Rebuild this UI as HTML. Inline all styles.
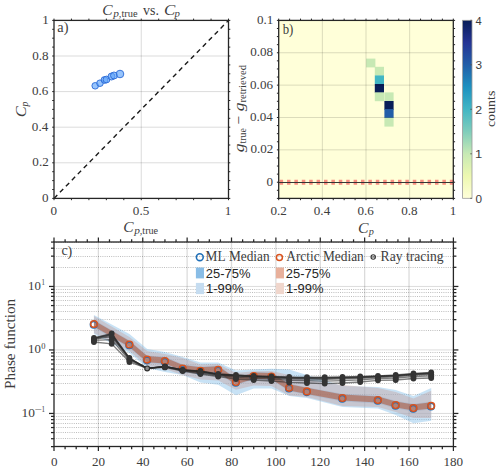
<!DOCTYPE html>
<html><head><meta charset="utf-8"><style>
html,body{margin:0;padding:0;background:#fff;width:500px;height:471px;overflow:hidden}
svg{display:block}
text{font-kerning:none}
</style></head><body>
<svg width="500" height="471" viewBox="0 0 500 471">
<rect width="500" height="471" fill="#fff"/>
<line x1="141.25" y1="20.4" x2="141.25" y2="198.4" stroke="rgba(0,0,0,0.14)" stroke-width="1"/>
<line x1="54" y1="162.8" x2="228.5" y2="162.8" stroke="rgba(0,0,0,0.14)" stroke-width="1"/>
<line x1="54" y1="127.2" x2="228.5" y2="127.2" stroke="rgba(0,0,0,0.14)" stroke-width="1"/>
<line x1="54" y1="91.6" x2="228.5" y2="91.6" stroke="rgba(0,0,0,0.14)" stroke-width="1"/>
<line x1="54" y1="56" x2="228.5" y2="56" stroke="rgba(0,0,0,0.14)" stroke-width="1"/>
<line x1="54" y1="198.4" x2="228.5" y2="20.4" stroke="#1a1a1a" stroke-width="1.4" stroke-dasharray="4.7 3.8"/>
<circle cx="95.2" cy="85.8" r="3.3" fill="rgba(95,165,250,0.65)" stroke="#2a6ad6" stroke-width="0.9"/>
<circle cx="100" cy="83.2" r="3.3" fill="rgba(95,165,250,0.65)" stroke="#2a6ad6" stroke-width="0.9"/>
<circle cx="104.5" cy="80" r="3.4" fill="rgba(95,165,250,0.65)" stroke="#2a6ad6" stroke-width="0.9"/>
<circle cx="106.5" cy="79.5" r="3.4" fill="rgba(95,165,250,0.65)" stroke="#2a6ad6" stroke-width="0.9"/>
<circle cx="111.5" cy="76.5" r="3.5" fill="rgba(95,165,250,0.65)" stroke="#2a6ad6" stroke-width="0.9"/>
<circle cx="114" cy="75.5" r="3.5" fill="rgba(95,165,250,0.65)" stroke="#2a6ad6" stroke-width="0.9"/>
<circle cx="120" cy="74" r="3.8" fill="rgba(95,165,250,0.65)" stroke="#2a6ad6" stroke-width="0.9"/>
<rect x="54" y="20.4" width="174.5" height="178" fill="none" stroke="#262626" stroke-width="1.3"/>
<line x1="54" y1="198.4" x2="54" y2="200.2" stroke="#262626" stroke-width="1"/>
<line x1="54" y1="20.4" x2="54" y2="18.6" stroke="#262626" stroke-width="1"/>
<line x1="71.45" y1="198.4" x2="71.45" y2="200.2" stroke="#262626" stroke-width="1"/>
<line x1="71.45" y1="20.4" x2="71.45" y2="18.6" stroke="#262626" stroke-width="1"/>
<line x1="88.9" y1="198.4" x2="88.9" y2="200.2" stroke="#262626" stroke-width="1"/>
<line x1="88.9" y1="20.4" x2="88.9" y2="18.6" stroke="#262626" stroke-width="1"/>
<line x1="106.35" y1="198.4" x2="106.35" y2="200.2" stroke="#262626" stroke-width="1"/>
<line x1="106.35" y1="20.4" x2="106.35" y2="18.6" stroke="#262626" stroke-width="1"/>
<line x1="123.8" y1="198.4" x2="123.8" y2="200.2" stroke="#262626" stroke-width="1"/>
<line x1="123.8" y1="20.4" x2="123.8" y2="18.6" stroke="#262626" stroke-width="1"/>
<line x1="141.25" y1="198.4" x2="141.25" y2="200.2" stroke="#262626" stroke-width="1"/>
<line x1="141.25" y1="20.4" x2="141.25" y2="18.6" stroke="#262626" stroke-width="1"/>
<line x1="158.7" y1="198.4" x2="158.7" y2="200.2" stroke="#262626" stroke-width="1"/>
<line x1="158.7" y1="20.4" x2="158.7" y2="18.6" stroke="#262626" stroke-width="1"/>
<line x1="176.15" y1="198.4" x2="176.15" y2="200.2" stroke="#262626" stroke-width="1"/>
<line x1="176.15" y1="20.4" x2="176.15" y2="18.6" stroke="#262626" stroke-width="1"/>
<line x1="193.6" y1="198.4" x2="193.6" y2="200.2" stroke="#262626" stroke-width="1"/>
<line x1="193.6" y1="20.4" x2="193.6" y2="18.6" stroke="#262626" stroke-width="1"/>
<line x1="211.05" y1="198.4" x2="211.05" y2="200.2" stroke="#262626" stroke-width="1"/>
<line x1="211.05" y1="20.4" x2="211.05" y2="18.6" stroke="#262626" stroke-width="1"/>
<line x1="228.5" y1="198.4" x2="228.5" y2="200.2" stroke="#262626" stroke-width="1"/>
<line x1="228.5" y1="20.4" x2="228.5" y2="18.6" stroke="#262626" stroke-width="1"/>
<line x1="54" y1="198.4" x2="52.2" y2="198.4" stroke="#262626" stroke-width="1"/>
<line x1="228.5" y1="198.4" x2="230.3" y2="198.4" stroke="#262626" stroke-width="1"/>
<line x1="54" y1="189.5" x2="52.2" y2="189.5" stroke="#262626" stroke-width="1"/>
<line x1="228.5" y1="189.5" x2="230.3" y2="189.5" stroke="#262626" stroke-width="1"/>
<line x1="54" y1="180.6" x2="52.2" y2="180.6" stroke="#262626" stroke-width="1"/>
<line x1="228.5" y1="180.6" x2="230.3" y2="180.6" stroke="#262626" stroke-width="1"/>
<line x1="54" y1="171.7" x2="52.2" y2="171.7" stroke="#262626" stroke-width="1"/>
<line x1="228.5" y1="171.7" x2="230.3" y2="171.7" stroke="#262626" stroke-width="1"/>
<line x1="54" y1="162.8" x2="52.2" y2="162.8" stroke="#262626" stroke-width="1"/>
<line x1="228.5" y1="162.8" x2="230.3" y2="162.8" stroke="#262626" stroke-width="1"/>
<line x1="54" y1="153.9" x2="52.2" y2="153.9" stroke="#262626" stroke-width="1"/>
<line x1="228.5" y1="153.9" x2="230.3" y2="153.9" stroke="#262626" stroke-width="1"/>
<line x1="54" y1="145" x2="52.2" y2="145" stroke="#262626" stroke-width="1"/>
<line x1="228.5" y1="145" x2="230.3" y2="145" stroke="#262626" stroke-width="1"/>
<line x1="54" y1="136.1" x2="52.2" y2="136.1" stroke="#262626" stroke-width="1"/>
<line x1="228.5" y1="136.1" x2="230.3" y2="136.1" stroke="#262626" stroke-width="1"/>
<line x1="54" y1="127.2" x2="52.2" y2="127.2" stroke="#262626" stroke-width="1"/>
<line x1="228.5" y1="127.2" x2="230.3" y2="127.2" stroke="#262626" stroke-width="1"/>
<line x1="54" y1="118.3" x2="52.2" y2="118.3" stroke="#262626" stroke-width="1"/>
<line x1="228.5" y1="118.3" x2="230.3" y2="118.3" stroke="#262626" stroke-width="1"/>
<line x1="54" y1="109.4" x2="52.2" y2="109.4" stroke="#262626" stroke-width="1"/>
<line x1="228.5" y1="109.4" x2="230.3" y2="109.4" stroke="#262626" stroke-width="1"/>
<line x1="54" y1="100.5" x2="52.2" y2="100.5" stroke="#262626" stroke-width="1"/>
<line x1="228.5" y1="100.5" x2="230.3" y2="100.5" stroke="#262626" stroke-width="1"/>
<line x1="54" y1="91.6" x2="52.2" y2="91.6" stroke="#262626" stroke-width="1"/>
<line x1="228.5" y1="91.6" x2="230.3" y2="91.6" stroke="#262626" stroke-width="1"/>
<line x1="54" y1="82.7" x2="52.2" y2="82.7" stroke="#262626" stroke-width="1"/>
<line x1="228.5" y1="82.7" x2="230.3" y2="82.7" stroke="#262626" stroke-width="1"/>
<line x1="54" y1="73.8" x2="52.2" y2="73.8" stroke="#262626" stroke-width="1"/>
<line x1="228.5" y1="73.8" x2="230.3" y2="73.8" stroke="#262626" stroke-width="1"/>
<line x1="54" y1="64.9" x2="52.2" y2="64.9" stroke="#262626" stroke-width="1"/>
<line x1="228.5" y1="64.9" x2="230.3" y2="64.9" stroke="#262626" stroke-width="1"/>
<line x1="54" y1="56" x2="52.2" y2="56" stroke="#262626" stroke-width="1"/>
<line x1="228.5" y1="56" x2="230.3" y2="56" stroke="#262626" stroke-width="1"/>
<line x1="54" y1="47.1" x2="52.2" y2="47.1" stroke="#262626" stroke-width="1"/>
<line x1="228.5" y1="47.1" x2="230.3" y2="47.1" stroke="#262626" stroke-width="1"/>
<line x1="54" y1="38.2" x2="52.2" y2="38.2" stroke="#262626" stroke-width="1"/>
<line x1="228.5" y1="38.2" x2="230.3" y2="38.2" stroke="#262626" stroke-width="1"/>
<line x1="54" y1="29.3" x2="52.2" y2="29.3" stroke="#262626" stroke-width="1"/>
<line x1="228.5" y1="29.3" x2="230.3" y2="29.3" stroke="#262626" stroke-width="1"/>
<line x1="54" y1="20.4" x2="52.2" y2="20.4" stroke="#262626" stroke-width="1"/>
<line x1="228.5" y1="20.4" x2="230.3" y2="20.4" stroke="#262626" stroke-width="1"/>
<text x="41.95" y="201.9" textLength="6.55" lengthAdjust="spacingAndGlyphs" style="font-family:'Liberation Serif', serif;font-size:13.5px;font-style:normal" fill="#3d3d3d">0</text>
<text x="32.35" y="166.3" textLength="16.37" lengthAdjust="spacingAndGlyphs" style="font-family:'Liberation Serif', serif;font-size:13.5px;font-style:normal" fill="#3d3d3d">0.2</text>
<text x="31.84" y="130.7" textLength="16.37" lengthAdjust="spacingAndGlyphs" style="font-family:'Liberation Serif', serif;font-size:13.5px;font-style:normal" fill="#3d3d3d">0.4</text>
<text x="32.02" y="95.1" textLength="16.37" lengthAdjust="spacingAndGlyphs" style="font-family:'Liberation Serif', serif;font-size:13.5px;font-style:normal" fill="#3d3d3d">0.6</text>
<text x="32.13" y="59.5" textLength="16.37" lengthAdjust="spacingAndGlyphs" style="font-family:'Liberation Serif', serif;font-size:13.5px;font-style:normal" fill="#3d3d3d">0.8</text>
<text x="42.24" y="23.9" textLength="6.55" lengthAdjust="spacingAndGlyphs" style="font-family:'Liberation Serif', serif;font-size:13.5px;font-style:normal" fill="#3d3d3d">1</text>
<text x="50.53" y="215.4" textLength="6.55" lengthAdjust="spacingAndGlyphs" style="font-family:'Liberation Serif', serif;font-size:13.5px;font-style:normal" fill="#3d3d3d">0</text>
<text x="132.87" y="215.4" textLength="16.37" lengthAdjust="spacingAndGlyphs" style="font-family:'Liberation Serif', serif;font-size:13.5px;font-style:normal" fill="#3d3d3d">0.5</text>
<text x="224.84" y="215.4" textLength="6.55" lengthAdjust="spacingAndGlyphs" style="font-family:'Liberation Serif', serif;font-size:13.5px;font-style:normal" fill="#3d3d3d">1</text>
<text x="57.3" y="32.3" textLength="11.13" lengthAdjust="spacingAndGlyphs" style="font-family:'Liberation Serif', serif;font-size:14px;font-style:normal" fill="#3d3d3d">a)</text>
<text x="102.34" y="15.2" textLength="10.32" lengthAdjust="spacingAndGlyphs" style="font-family:'Liberation Serif', serif;font-size:15.5px;font-style:italic" fill="#3d3d3d">C</text>
<text x="113.27" y="17.2" textLength="5.68" lengthAdjust="spacingAndGlyphs" style="font-family:'Liberation Serif', serif;font-size:11px;font-style:italic" fill="#3d3d3d">p</text>
<text x="118.8" y="17.2" textLength="18.76" lengthAdjust="spacingAndGlyphs" style="font-family:'Liberation Serif', serif;font-size:11px;font-style:normal" fill="#3d3d3d">,true</text>
<text x="143" y="15.3" textLength="15.92" lengthAdjust="spacingAndGlyphs" style="font-family:'Liberation Serif', serif;font-size:15px;font-style:normal" fill="#3d3d3d">vs.</text>
<text x="164.06" y="15.2" textLength="11.28" lengthAdjust="spacingAndGlyphs" style="font-family:'Liberation Serif', serif;font-size:15.5px;font-style:italic" fill="#3d3d3d">C</text>
<text x="174.43" y="17.2" textLength="5.39" lengthAdjust="spacingAndGlyphs" style="font-family:'Liberation Serif', serif;font-size:11px;font-style:italic" fill="#3d3d3d">p</text>
<text x="123.34" y="232.4" textLength="10.32" lengthAdjust="spacingAndGlyphs" style="font-family:'Liberation Serif', serif;font-size:15.5px;font-style:italic" fill="#3d3d3d">C</text>
<text x="134.27" y="234.4" textLength="5.68" lengthAdjust="spacingAndGlyphs" style="font-family:'Liberation Serif', serif;font-size:11px;font-style:italic" fill="#3d3d3d">p</text>
<text x="139.81" y="234.4" textLength="18.34" lengthAdjust="spacingAndGlyphs" style="font-family:'Liberation Serif', serif;font-size:11px;font-style:normal" fill="#3d3d3d">,true</text>
<text transform="translate(25.9,116.3) rotate(-90)" x="-0.91" y="0" textLength="10.96" lengthAdjust="spacingAndGlyphs" style="font-family:'Liberation Serif', serif;font-size:15.5px;font-style:italic" fill="#3d3d3d">C</text>
<text transform="translate(27.6,107) rotate(-90)" x="0.57" y="0" textLength="4.83" lengthAdjust="spacingAndGlyphs" style="font-family:'Liberation Serif', serif;font-size:11px;font-style:italic" fill="#3d3d3d">p</text>
<rect x="278.7" y="20.4" width="174.6" height="178" fill="#ffffd9"/>
<rect x="366.2" y="58.6" width="9.2" height="8.8" fill="#c7e9b4"/>
<rect x="374.8" y="66.8" width="9.2" height="8.8" fill="#c7e9b4"/>
<rect x="374.8" y="75.4" width="9.2" height="8.8" fill="#41b6c4"/>
<rect x="374.8" y="84" width="9.2" height="8.8" fill="#081d58"/>
<rect x="374.8" y="92.4" width="9.2" height="8.8" fill="#c7e9b4"/>
<rect x="384.4" y="92.4" width="9.2" height="8.8" fill="#c7e9b4"/>
<rect x="384.4" y="101" width="9.2" height="8.8" fill="#081d58"/>
<rect x="384.4" y="109.2" width="9.2" height="8.8" fill="#225ea8"/>
<rect x="384.4" y="117.8" width="9.2" height="8.8" fill="#c7e9b4"/>
<line x1="322.35" y1="20.4" x2="322.35" y2="198.4" stroke="rgba(0,0,0,0.14)" stroke-width="1"/>
<line x1="366" y1="20.4" x2="366" y2="198.4" stroke="rgba(0,0,0,0.14)" stroke-width="1"/>
<line x1="409.65" y1="20.4" x2="409.65" y2="198.4" stroke="rgba(0,0,0,0.14)" stroke-width="1"/>
<line x1="278.7" y1="149.85" x2="453.3" y2="149.85" stroke="rgba(0,0,0,0.14)" stroke-width="1"/>
<line x1="278.7" y1="117.49" x2="453.3" y2="117.49" stroke="rgba(0,0,0,0.14)" stroke-width="1"/>
<line x1="278.7" y1="85.13" x2="453.3" y2="85.13" stroke="rgba(0,0,0,0.14)" stroke-width="1"/>
<line x1="278.7" y1="52.76" x2="453.3" y2="52.76" stroke="rgba(0,0,0,0.14)" stroke-width="1"/>
<line x1="278.7" y1="182.3" x2="453.3" y2="182.3" stroke="rgba(245,105,100,0.75)" stroke-width="5" stroke-dasharray="3.5 3.9" stroke-dashoffset="6.5"/>
<line x1="278.7" y1="182.5" x2="453.3" y2="182.5" stroke="#353535" stroke-width="1"/>
<rect x="278.7" y="20.4" width="174.6" height="178" fill="none" stroke="#262626" stroke-width="1.3"/>
<line x1="278.7" y1="198.4" x2="278.7" y2="200.2" stroke="#262626" stroke-width="1"/>
<line x1="278.7" y1="20.4" x2="278.7" y2="18.6" stroke="#262626" stroke-width="1"/>
<line x1="289.61" y1="198.4" x2="289.61" y2="200.2" stroke="#262626" stroke-width="1"/>
<line x1="289.61" y1="20.4" x2="289.61" y2="18.6" stroke="#262626" stroke-width="1"/>
<line x1="300.52" y1="198.4" x2="300.52" y2="200.2" stroke="#262626" stroke-width="1"/>
<line x1="300.52" y1="20.4" x2="300.52" y2="18.6" stroke="#262626" stroke-width="1"/>
<line x1="311.44" y1="198.4" x2="311.44" y2="200.2" stroke="#262626" stroke-width="1"/>
<line x1="311.44" y1="20.4" x2="311.44" y2="18.6" stroke="#262626" stroke-width="1"/>
<line x1="322.35" y1="198.4" x2="322.35" y2="200.2" stroke="#262626" stroke-width="1"/>
<line x1="322.35" y1="20.4" x2="322.35" y2="18.6" stroke="#262626" stroke-width="1"/>
<line x1="333.26" y1="198.4" x2="333.26" y2="200.2" stroke="#262626" stroke-width="1"/>
<line x1="333.26" y1="20.4" x2="333.26" y2="18.6" stroke="#262626" stroke-width="1"/>
<line x1="344.17" y1="198.4" x2="344.17" y2="200.2" stroke="#262626" stroke-width="1"/>
<line x1="344.17" y1="20.4" x2="344.17" y2="18.6" stroke="#262626" stroke-width="1"/>
<line x1="355.09" y1="198.4" x2="355.09" y2="200.2" stroke="#262626" stroke-width="1"/>
<line x1="355.09" y1="20.4" x2="355.09" y2="18.6" stroke="#262626" stroke-width="1"/>
<line x1="366" y1="198.4" x2="366" y2="200.2" stroke="#262626" stroke-width="1"/>
<line x1="366" y1="20.4" x2="366" y2="18.6" stroke="#262626" stroke-width="1"/>
<line x1="376.91" y1="198.4" x2="376.91" y2="200.2" stroke="#262626" stroke-width="1"/>
<line x1="376.91" y1="20.4" x2="376.91" y2="18.6" stroke="#262626" stroke-width="1"/>
<line x1="387.82" y1="198.4" x2="387.82" y2="200.2" stroke="#262626" stroke-width="1"/>
<line x1="387.82" y1="20.4" x2="387.82" y2="18.6" stroke="#262626" stroke-width="1"/>
<line x1="398.74" y1="198.4" x2="398.74" y2="200.2" stroke="#262626" stroke-width="1"/>
<line x1="398.74" y1="20.4" x2="398.74" y2="18.6" stroke="#262626" stroke-width="1"/>
<line x1="409.65" y1="198.4" x2="409.65" y2="200.2" stroke="#262626" stroke-width="1"/>
<line x1="409.65" y1="20.4" x2="409.65" y2="18.6" stroke="#262626" stroke-width="1"/>
<line x1="420.56" y1="198.4" x2="420.56" y2="200.2" stroke="#262626" stroke-width="1"/>
<line x1="420.56" y1="20.4" x2="420.56" y2="18.6" stroke="#262626" stroke-width="1"/>
<line x1="431.48" y1="198.4" x2="431.48" y2="200.2" stroke="#262626" stroke-width="1"/>
<line x1="431.48" y1="20.4" x2="431.48" y2="18.6" stroke="#262626" stroke-width="1"/>
<line x1="442.39" y1="198.4" x2="442.39" y2="200.2" stroke="#262626" stroke-width="1"/>
<line x1="442.39" y1="20.4" x2="442.39" y2="18.6" stroke="#262626" stroke-width="1"/>
<line x1="453.3" y1="198.4" x2="453.3" y2="200.2" stroke="#262626" stroke-width="1"/>
<line x1="453.3" y1="20.4" x2="453.3" y2="18.6" stroke="#262626" stroke-width="1"/>
<line x1="278.7" y1="198.4" x2="276.9" y2="198.4" stroke="#262626" stroke-width="1"/>
<line x1="453.3" y1="198.4" x2="455.1" y2="198.4" stroke="#262626" stroke-width="1"/>
<line x1="278.7" y1="190.31" x2="276.9" y2="190.31" stroke="#262626" stroke-width="1"/>
<line x1="453.3" y1="190.31" x2="455.1" y2="190.31" stroke="#262626" stroke-width="1"/>
<line x1="278.7" y1="182.22" x2="276.9" y2="182.22" stroke="#262626" stroke-width="1"/>
<line x1="453.3" y1="182.22" x2="455.1" y2="182.22" stroke="#262626" stroke-width="1"/>
<line x1="278.7" y1="174.13" x2="276.9" y2="174.13" stroke="#262626" stroke-width="1"/>
<line x1="453.3" y1="174.13" x2="455.1" y2="174.13" stroke="#262626" stroke-width="1"/>
<line x1="278.7" y1="166.04" x2="276.9" y2="166.04" stroke="#262626" stroke-width="1"/>
<line x1="453.3" y1="166.04" x2="455.1" y2="166.04" stroke="#262626" stroke-width="1"/>
<line x1="278.7" y1="157.95" x2="276.9" y2="157.95" stroke="#262626" stroke-width="1"/>
<line x1="453.3" y1="157.95" x2="455.1" y2="157.95" stroke="#262626" stroke-width="1"/>
<line x1="278.7" y1="149.85" x2="276.9" y2="149.85" stroke="#262626" stroke-width="1"/>
<line x1="453.3" y1="149.85" x2="455.1" y2="149.85" stroke="#262626" stroke-width="1"/>
<line x1="278.7" y1="141.76" x2="276.9" y2="141.76" stroke="#262626" stroke-width="1"/>
<line x1="453.3" y1="141.76" x2="455.1" y2="141.76" stroke="#262626" stroke-width="1"/>
<line x1="278.7" y1="133.67" x2="276.9" y2="133.67" stroke="#262626" stroke-width="1"/>
<line x1="453.3" y1="133.67" x2="455.1" y2="133.67" stroke="#262626" stroke-width="1"/>
<line x1="278.7" y1="125.58" x2="276.9" y2="125.58" stroke="#262626" stroke-width="1"/>
<line x1="453.3" y1="125.58" x2="455.1" y2="125.58" stroke="#262626" stroke-width="1"/>
<line x1="278.7" y1="117.49" x2="276.9" y2="117.49" stroke="#262626" stroke-width="1"/>
<line x1="453.3" y1="117.49" x2="455.1" y2="117.49" stroke="#262626" stroke-width="1"/>
<line x1="278.7" y1="109.4" x2="276.9" y2="109.4" stroke="#262626" stroke-width="1"/>
<line x1="453.3" y1="109.4" x2="455.1" y2="109.4" stroke="#262626" stroke-width="1"/>
<line x1="278.7" y1="101.31" x2="276.9" y2="101.31" stroke="#262626" stroke-width="1"/>
<line x1="453.3" y1="101.31" x2="455.1" y2="101.31" stroke="#262626" stroke-width="1"/>
<line x1="278.7" y1="93.22" x2="276.9" y2="93.22" stroke="#262626" stroke-width="1"/>
<line x1="453.3" y1="93.22" x2="455.1" y2="93.22" stroke="#262626" stroke-width="1"/>
<line x1="278.7" y1="85.13" x2="276.9" y2="85.13" stroke="#262626" stroke-width="1"/>
<line x1="453.3" y1="85.13" x2="455.1" y2="85.13" stroke="#262626" stroke-width="1"/>
<line x1="278.7" y1="77.04" x2="276.9" y2="77.04" stroke="#262626" stroke-width="1"/>
<line x1="453.3" y1="77.04" x2="455.1" y2="77.04" stroke="#262626" stroke-width="1"/>
<line x1="278.7" y1="68.95" x2="276.9" y2="68.95" stroke="#262626" stroke-width="1"/>
<line x1="453.3" y1="68.95" x2="455.1" y2="68.95" stroke="#262626" stroke-width="1"/>
<line x1="278.7" y1="60.85" x2="276.9" y2="60.85" stroke="#262626" stroke-width="1"/>
<line x1="453.3" y1="60.85" x2="455.1" y2="60.85" stroke="#262626" stroke-width="1"/>
<line x1="278.7" y1="52.76" x2="276.9" y2="52.76" stroke="#262626" stroke-width="1"/>
<line x1="453.3" y1="52.76" x2="455.1" y2="52.76" stroke="#262626" stroke-width="1"/>
<line x1="278.7" y1="44.67" x2="276.9" y2="44.67" stroke="#262626" stroke-width="1"/>
<line x1="453.3" y1="44.67" x2="455.1" y2="44.67" stroke="#262626" stroke-width="1"/>
<line x1="278.7" y1="36.58" x2="276.9" y2="36.58" stroke="#262626" stroke-width="1"/>
<line x1="453.3" y1="36.58" x2="455.1" y2="36.58" stroke="#262626" stroke-width="1"/>
<line x1="278.7" y1="28.49" x2="276.9" y2="28.49" stroke="#262626" stroke-width="1"/>
<line x1="453.3" y1="28.49" x2="455.1" y2="28.49" stroke="#262626" stroke-width="1"/>
<line x1="278.7" y1="20.4" x2="276.9" y2="20.4" stroke="#262626" stroke-width="1"/>
<line x1="453.3" y1="20.4" x2="455.1" y2="20.4" stroke="#262626" stroke-width="1"/>
<text x="266.55" y="185.62" textLength="6.55" lengthAdjust="spacingAndGlyphs" style="font-family:'Liberation Serif', serif;font-size:13.5px;font-style:normal" fill="#3d3d3d">0</text>
<text x="250.41" y="153.25" textLength="22.92" lengthAdjust="spacingAndGlyphs" style="font-family:'Liberation Serif', serif;font-size:13.5px;font-style:normal" fill="#3d3d3d">0.02</text>
<text x="249.89" y="120.89" textLength="22.92" lengthAdjust="spacingAndGlyphs" style="font-family:'Liberation Serif', serif;font-size:13.5px;font-style:normal" fill="#3d3d3d">0.04</text>
<text x="250.07" y="88.53" textLength="22.92" lengthAdjust="spacingAndGlyphs" style="font-family:'Liberation Serif', serif;font-size:13.5px;font-style:normal" fill="#3d3d3d">0.06</text>
<text x="250.18" y="56.16" textLength="22.92" lengthAdjust="spacingAndGlyphs" style="font-family:'Liberation Serif', serif;font-size:13.5px;font-style:normal" fill="#3d3d3d">0.08</text>
<text x="257.02" y="23.8" textLength="16.37" lengthAdjust="spacingAndGlyphs" style="font-family:'Liberation Serif', serif;font-size:13.5px;font-style:normal" fill="#3d3d3d">0.1</text>
<text x="270.43" y="215.3" textLength="16.37" lengthAdjust="spacingAndGlyphs" style="font-family:'Liberation Serif', serif;font-size:13.5px;font-style:normal" fill="#3d3d3d">0.2</text>
<text x="313.82" y="215.3" textLength="16.37" lengthAdjust="spacingAndGlyphs" style="font-family:'Liberation Serif', serif;font-size:13.5px;font-style:normal" fill="#3d3d3d">0.4</text>
<text x="357.56" y="215.3" textLength="16.37" lengthAdjust="spacingAndGlyphs" style="font-family:'Liberation Serif', serif;font-size:13.5px;font-style:normal" fill="#3d3d3d">0.6</text>
<text x="401.27" y="215.3" textLength="16.37" lengthAdjust="spacingAndGlyphs" style="font-family:'Liberation Serif', serif;font-size:13.5px;font-style:normal" fill="#3d3d3d">0.8</text>
<text x="449.64" y="215.3" textLength="6.55" lengthAdjust="spacingAndGlyphs" style="font-family:'Liberation Serif', serif;font-size:13.5px;font-style:normal" fill="#3d3d3d">1</text>
<text x="282.7" y="33.5" textLength="10.66" lengthAdjust="spacingAndGlyphs" style="font-family:'Liberation Serif', serif;font-size:14px;font-style:normal" fill="#3d3d3d">b)</text>
<text x="357.92" y="233.2" textLength="10.53" lengthAdjust="spacingAndGlyphs" style="font-family:'Liberation Serif', serif;font-size:15.5px;font-style:italic" fill="#3d3d3d">C</text>
<text x="368.8" y="235.2" textLength="5.11" lengthAdjust="spacingAndGlyphs" style="font-family:'Liberation Serif', serif;font-size:11px;font-style:italic" fill="#3d3d3d">p</text>
<text transform="translate(244,152.3) rotate(-90)" x="-0.01" y="0" textLength="8.83" lengthAdjust="spacingAndGlyphs" style="font-family:'Liberation Serif', serif;font-size:15.5px;font-style:italic" fill="#3d3d3d">g</text>
<text transform="translate(246,143.3) rotate(-90)" x="-0.1" y="0" textLength="15.24" lengthAdjust="spacingAndGlyphs" style="font-family:'Liberation Serif', serif;font-size:11px;font-style:normal" fill="#3d3d3d">true</text>
<text transform="translate(244,123.8) rotate(-90)" x="-0.77" y="0" textLength="8.73" lengthAdjust="spacingAndGlyphs" style="font-family:'Liberation Serif', serif;font-size:15.5px;font-style:normal" fill="#3d3d3d">−</text>
<text transform="translate(244,111.3) rotate(-90)" x="-0.01" y="0" textLength="8.83" lengthAdjust="spacingAndGlyphs" style="font-family:'Liberation Serif', serif;font-size:15.5px;font-style:italic" fill="#3d3d3d">g</text>
<text transform="translate(246,102.3) rotate(-90)" x="-0.21" y="0" textLength="37.44" lengthAdjust="spacingAndGlyphs" style="font-family:'Liberation Serif', serif;font-size:11px;font-style:normal" fill="#3d3d3d">retrieved</text>
<defs><linearGradient id="cb" x1="0" y1="1" x2="0" y2="0"><stop offset="0.0" stop-color="#ffffd9"/><stop offset="0.125" stop-color="#edf8b1"/><stop offset="0.25" stop-color="#c7e9b4"/><stop offset="0.375" stop-color="#7fcdbb"/><stop offset="0.5" stop-color="#41b6c4"/><stop offset="0.625" stop-color="#1d91c0"/><stop offset="0.75" stop-color="#225ea8"/><stop offset="0.875" stop-color="#253494"/><stop offset="1.0" stop-color="#081d58"/></linearGradient></defs>
<rect x="462.6" y="20.3" width="9.4" height="178" fill="url(#cb)" stroke="#9a9a9a" stroke-width="0.8"/>
<line x1="472" y1="198.3" x2="470.2" y2="198.3" stroke="#555" stroke-width="0.8"/>
<text x="475.44" y="202.5" textLength="6.52" lengthAdjust="spacingAndGlyphs" style="font-family:'Liberation Sans', sans-serif;font-size:10.7px;font-style:normal" fill="#3d3d3d">0</text>
<line x1="472" y1="153.8" x2="470.2" y2="153.8" stroke="#555" stroke-width="0.8"/>
<text x="474.91" y="158" textLength="7.22" lengthAdjust="spacingAndGlyphs" style="font-family:'Liberation Sans', sans-serif;font-size:10.7px;font-style:normal" fill="#3d3d3d">1</text>
<line x1="472" y1="109.3" x2="470.2" y2="109.3" stroke="#555" stroke-width="0.8"/>
<text x="475.28" y="113.5" textLength="6.84" lengthAdjust="spacingAndGlyphs" style="font-family:'Liberation Sans', sans-serif;font-size:10.7px;font-style:normal" fill="#3d3d3d">2</text>
<line x1="472" y1="64.8" x2="470.2" y2="64.8" stroke="#555" stroke-width="0.8"/>
<text x="475.45" y="69" textLength="6.57" lengthAdjust="spacingAndGlyphs" style="font-family:'Liberation Sans', sans-serif;font-size:10.7px;font-style:normal" fill="#3d3d3d">3</text>
<line x1="472" y1="20.3" x2="470.2" y2="20.3" stroke="#555" stroke-width="0.8"/>
<text x="475.64" y="24.5" textLength="6.18" lengthAdjust="spacingAndGlyphs" style="font-family:'Liberation Sans', sans-serif;font-size:10.7px;font-style:normal" fill="#3d3d3d">4</text>
<text transform="translate(494.8,126.6) rotate(-90)" x="-0.53" y="0" textLength="36.44" lengthAdjust="spacingAndGlyphs" style="font-family:'Liberation Serif', serif;font-size:13px;font-style:normal" fill="#3d3d3d">counts</text>
<line x1="98.38" y1="242" x2="98.38" y2="446.5" stroke="rgba(0,0,0,0.14)" stroke-width="1.3"/>
<line x1="142.76" y1="242" x2="142.76" y2="446.5" stroke="rgba(0,0,0,0.14)" stroke-width="1.3"/>
<line x1="187.13" y1="242" x2="187.13" y2="446.5" stroke="rgba(0,0,0,0.14)" stroke-width="1.3"/>
<line x1="231.51" y1="242" x2="231.51" y2="446.5" stroke="rgba(0,0,0,0.14)" stroke-width="1.3"/>
<line x1="275.89" y1="242" x2="275.89" y2="446.5" stroke="rgba(0,0,0,0.14)" stroke-width="1.3"/>
<line x1="320.27" y1="242" x2="320.27" y2="446.5" stroke="rgba(0,0,0,0.14)" stroke-width="1.3"/>
<line x1="364.64" y1="242" x2="364.64" y2="446.5" stroke="rgba(0,0,0,0.14)" stroke-width="1.3"/>
<line x1="409.02" y1="242" x2="409.02" y2="446.5" stroke="rgba(0,0,0,0.14)" stroke-width="1.3"/>
<line x1="54" y1="446.5" x2="453.4" y2="446.5" stroke="rgba(0,0,0,0.26)" stroke-width="1" stroke-dasharray="1 1.2"/>
<line x1="54" y1="438.5" x2="453.4" y2="438.5" stroke="rgba(0,0,0,0.26)" stroke-width="1" stroke-dasharray="1 1.2"/>
<line x1="54" y1="432.5" x2="453.4" y2="432.5" stroke="rgba(0,0,0,0.26)" stroke-width="1" stroke-dasharray="1 1.2"/>
<line x1="54" y1="427.5" x2="453.4" y2="427.5" stroke="rgba(0,0,0,0.26)" stroke-width="1" stroke-dasharray="1 1.2"/>
<line x1="54" y1="423.5" x2="453.4" y2="423.5" stroke="rgba(0,0,0,0.26)" stroke-width="1" stroke-dasharray="1 1.2"/>
<line x1="54" y1="419.5" x2="453.4" y2="419.5" stroke="rgba(0,0,0,0.26)" stroke-width="1" stroke-dasharray="1 1.2"/>
<line x1="54" y1="416.5" x2="453.4" y2="416.5" stroke="rgba(0,0,0,0.26)" stroke-width="1" stroke-dasharray="1 1.2"/>
<line x1="54" y1="413.45" x2="453.4" y2="413.45" stroke="rgba(0,0,0,0.14)" stroke-width="1"/>
<line x1="54" y1="394.5" x2="453.4" y2="394.5" stroke="rgba(0,0,0,0.26)" stroke-width="1" stroke-dasharray="1 1.2"/>
<line x1="54" y1="383.5" x2="453.4" y2="383.5" stroke="rgba(0,0,0,0.26)" stroke-width="1" stroke-dasharray="1 1.2"/>
<line x1="54" y1="375.5" x2="453.4" y2="375.5" stroke="rgba(0,0,0,0.26)" stroke-width="1" stroke-dasharray="1 1.2"/>
<line x1="54" y1="369.5" x2="453.4" y2="369.5" stroke="rgba(0,0,0,0.26)" stroke-width="1" stroke-dasharray="1 1.2"/>
<line x1="54" y1="364.5" x2="453.4" y2="364.5" stroke="rgba(0,0,0,0.26)" stroke-width="1" stroke-dasharray="1 1.2"/>
<line x1="54" y1="359.5" x2="453.4" y2="359.5" stroke="rgba(0,0,0,0.26)" stroke-width="1" stroke-dasharray="1 1.2"/>
<line x1="54" y1="356.5" x2="453.4" y2="356.5" stroke="rgba(0,0,0,0.26)" stroke-width="1" stroke-dasharray="1 1.2"/>
<line x1="54" y1="352.5" x2="453.4" y2="352.5" stroke="rgba(0,0,0,0.26)" stroke-width="1" stroke-dasharray="1 1.2"/>
<line x1="54" y1="349.95" x2="453.4" y2="349.95" stroke="rgba(0,0,0,0.14)" stroke-width="1"/>
<line x1="54" y1="330.5" x2="453.4" y2="330.5" stroke="rgba(0,0,0,0.26)" stroke-width="1" stroke-dasharray="1 1.2"/>
<line x1="54" y1="319.5" x2="453.4" y2="319.5" stroke="rgba(0,0,0,0.26)" stroke-width="1" stroke-dasharray="1 1.2"/>
<line x1="54" y1="311.5" x2="453.4" y2="311.5" stroke="rgba(0,0,0,0.26)" stroke-width="1" stroke-dasharray="1 1.2"/>
<line x1="54" y1="305.5" x2="453.4" y2="305.5" stroke="rgba(0,0,0,0.26)" stroke-width="1" stroke-dasharray="1 1.2"/>
<line x1="54" y1="300.5" x2="453.4" y2="300.5" stroke="rgba(0,0,0,0.26)" stroke-width="1" stroke-dasharray="1 1.2"/>
<line x1="54" y1="296.5" x2="453.4" y2="296.5" stroke="rgba(0,0,0,0.26)" stroke-width="1" stroke-dasharray="1 1.2"/>
<line x1="54" y1="292.5" x2="453.4" y2="292.5" stroke="rgba(0,0,0,0.26)" stroke-width="1" stroke-dasharray="1 1.2"/>
<line x1="54" y1="289.5" x2="453.4" y2="289.5" stroke="rgba(0,0,0,0.26)" stroke-width="1" stroke-dasharray="1 1.2"/>
<line x1="54" y1="286.45" x2="453.4" y2="286.45" stroke="rgba(0,0,0,0.14)" stroke-width="1"/>
<line x1="54" y1="267.5" x2="453.4" y2="267.5" stroke="rgba(0,0,0,0.26)" stroke-width="1" stroke-dasharray="1 1.2"/>
<line x1="54" y1="256.5" x2="453.4" y2="256.5" stroke="rgba(0,0,0,0.26)" stroke-width="1" stroke-dasharray="1 1.2"/>
<line x1="54" y1="248.5" x2="453.4" y2="248.5" stroke="rgba(0,0,0,0.26)" stroke-width="1" stroke-dasharray="1 1.2"/>
<line x1="54" y1="242.5" x2="453.4" y2="242.5" stroke="rgba(0,0,0,0.26)" stroke-width="1" stroke-dasharray="1 1.2"/>
<polygon points="93.94,315 129.44,334 147.19,349 164.94,352 182.7,357 200.45,362.6 218.2,362.6 235.95,370.6 253.7,369.4 271.45,368.8 289.2,369.6 306.95,375 342.46,386 377.96,387 395.71,390 413.46,396 431.21,388 431.21,420.7 413.46,423.3 395.71,415 377.96,408.5 342.46,407 306.95,398 289.2,396 271.45,388.6 253.7,388.6 235.95,395.2 218.2,384.8 200.45,382.4 182.7,375 164.94,372 147.19,368 129.44,353 93.94,334" fill="rgba(125,185,230,0.42)"/>
<polygon points="93.94,319.8 129.44,340.3 147.19,355.4 164.94,356.8 182.7,364.3 200.45,366.6 218.2,365.6 235.95,377.8 253.7,372 271.45,372.4 289.2,383.6 306.95,387.2 342.46,393.8 377.96,395.8 395.71,400.8 413.46,403.8 431.21,401.6 431.21,409.2 413.46,411.4 395.71,408.4 377.96,403.4 342.46,401.4 306.95,394.8 289.2,391.2 271.45,380 253.7,379.6 235.95,385.4 218.2,373.2 200.45,374.2 182.7,371.9 164.94,364.4 147.19,363 129.44,347.9 93.94,327.4" fill="rgba(110,170,220,0.35)"/>
<polygon points="93.94,316 129.44,337 147.19,351 164.94,354 182.7,358 200.45,364.4 218.2,364 235.95,373 253.7,371.2 271.45,371 289.2,375 306.95,380 342.46,385 377.96,388 395.71,392 413.46,398.6 431.21,390.8 431.21,418 413.46,418 395.71,412 377.96,407 342.46,406 306.95,397 289.2,395.5 271.45,386 253.7,385.6 235.95,389.8 218.2,380.6 200.45,379.4 182.7,375 164.94,369 147.19,366 129.44,351 93.94,333" fill="rgba(195,160,158,0.42)"/>
<polygon points="93.94,320.4 129.44,340.9 147.19,356 164.94,357.4 182.7,364.9 200.45,367.2 218.2,366.2 235.95,378.4 253.7,372.6 271.45,373 289.2,384.2 306.95,387.8 342.46,394.4 377.96,396.4 395.71,401.4 413.46,404.4 431.21,402.2 431.21,408.4 413.46,410.6 395.71,407.6 377.96,402.6 342.46,400.6 306.95,394 289.2,390.4 271.45,379.2 253.7,378.8 235.95,384.6 218.2,372.4 200.45,373.4 182.7,371.1 164.94,363.6 147.19,362.2 129.44,347.1 93.94,326.6" fill="rgba(175,95,70,0.62)"/>
<circle cx="93.74" cy="324.7" r="3.3" fill="none" stroke="#2070b8" stroke-width="1.6"/>
<circle cx="129.24" cy="345.2" r="3.3" fill="none" stroke="#2070b8" stroke-width="1.6"/>
<circle cx="146.99" cy="360.3" r="3.3" fill="none" stroke="#2070b8" stroke-width="1.6"/>
<circle cx="164.74" cy="361.7" r="3.3" fill="none" stroke="#2070b8" stroke-width="1.6"/>
<circle cx="182.5" cy="369.2" r="3.3" fill="none" stroke="#2070b8" stroke-width="1.6"/>
<circle cx="200.25" cy="371.5" r="3.3" fill="none" stroke="#2070b8" stroke-width="1.6"/>
<circle cx="218" cy="370.5" r="3.3" fill="none" stroke="#2070b8" stroke-width="1.6"/>
<circle cx="235.75" cy="382.7" r="3.3" fill="none" stroke="#2070b8" stroke-width="1.6"/>
<circle cx="253.5" cy="376.9" r="3.3" fill="none" stroke="#2070b8" stroke-width="1.6"/>
<circle cx="271.25" cy="377.3" r="3.3" fill="none" stroke="#2070b8" stroke-width="1.6"/>
<circle cx="289" cy="388.5" r="3.3" fill="none" stroke="#2070b8" stroke-width="1.6"/>
<circle cx="306.75" cy="392.1" r="3.3" fill="none" stroke="#2070b8" stroke-width="1.6"/>
<circle cx="342.26" cy="398.7" r="3.3" fill="none" stroke="#2070b8" stroke-width="1.6"/>
<circle cx="377.76" cy="400.7" r="3.3" fill="none" stroke="#2070b8" stroke-width="1.6"/>
<circle cx="395.51" cy="405.7" r="3.3" fill="none" stroke="#2070b8" stroke-width="1.6"/>
<circle cx="413.26" cy="408.7" r="3.3" fill="none" stroke="#2070b8" stroke-width="1.6"/>
<circle cx="431.01" cy="406.5" r="3.3" fill="none" stroke="#2070b8" stroke-width="1.6"/>
<circle cx="93.94" cy="324" r="3.3" fill="none" stroke="#d9531e" stroke-width="1.6"/>
<circle cx="129.44" cy="344.5" r="3.3" fill="none" stroke="#d9531e" stroke-width="1.6"/>
<circle cx="147.19" cy="359.6" r="3.3" fill="none" stroke="#d9531e" stroke-width="1.6"/>
<circle cx="164.94" cy="361" r="3.3" fill="none" stroke="#d9531e" stroke-width="1.6"/>
<circle cx="182.7" cy="368.5" r="3.3" fill="none" stroke="#d9531e" stroke-width="1.6"/>
<circle cx="200.45" cy="370.8" r="3.3" fill="none" stroke="#d9531e" stroke-width="1.6"/>
<circle cx="218.2" cy="369.8" r="3.3" fill="none" stroke="#d9531e" stroke-width="1.6"/>
<circle cx="235.95" cy="382" r="3.3" fill="none" stroke="#d9531e" stroke-width="1.6"/>
<circle cx="253.7" cy="376.2" r="3.3" fill="none" stroke="#d9531e" stroke-width="1.6"/>
<circle cx="271.45" cy="376.6" r="3.3" fill="none" stroke="#d9531e" stroke-width="1.6"/>
<circle cx="289.2" cy="387.8" r="3.3" fill="none" stroke="#d9531e" stroke-width="1.6"/>
<circle cx="306.95" cy="391.4" r="3.3" fill="none" stroke="#d9531e" stroke-width="1.6"/>
<circle cx="342.46" cy="398" r="3.3" fill="none" stroke="#d9531e" stroke-width="1.6"/>
<circle cx="377.96" cy="400" r="3.3" fill="none" stroke="#d9531e" stroke-width="1.6"/>
<circle cx="395.71" cy="405" r="3.3" fill="none" stroke="#d9531e" stroke-width="1.6"/>
<circle cx="413.46" cy="408" r="3.3" fill="none" stroke="#d9531e" stroke-width="1.6"/>
<circle cx="431.21" cy="405.8" r="3.3" fill="none" stroke="#d9531e" stroke-width="1.6"/>
<polyline points="93.94,338 111.69,333.4 129.44,358 147.19,368.4 164.94,366.4 182.7,369.8 200.45,371 218.2,374 235.95,375 253.7,375.8 271.45,376.4 289.2,377 306.95,377.2 324.7,377.2 342.46,377 360.21,376.5 377.96,375.8 395.71,375 413.46,373.5 431.21,372.5" fill="none" stroke="rgba(40,40,40,0.6)" stroke-width="1.3"/>
<polyline points="93.94,338.24 111.69,334.02 129.44,358.24 147.19,368.4 164.94,366.46 182.7,369.87 200.45,371.18 218.2,374.15 235.95,375.24 253.7,376.05 271.45,376.68 289.2,377.32 306.95,377.55 324.7,377.58 342.46,377.36 360.21,376.83 377.96,376.07 395.71,375.3 413.46,373.8 431.21,372.83" fill="none" stroke="rgba(40,40,40,0.6)" stroke-width="1.3"/>
<polyline points="93.94,338.48 111.69,334.65 129.44,358.48 147.19,368.4 164.94,366.52 182.7,369.94 200.45,371.36 218.2,374.3 235.95,375.48 253.7,376.3 271.45,376.95 289.2,377.65 306.95,377.9 324.7,377.97 342.46,377.72 360.21,377.16 377.96,376.34 395.71,375.6 413.46,374.1 431.21,373.16" fill="none" stroke="rgba(40,40,40,0.6)" stroke-width="1.3"/>
<polyline points="93.94,338.8 111.69,335.48 129.44,358.8 147.19,368.4 164.94,366.6 182.7,370.04 200.45,371.6 218.2,374.5 235.95,375.8 253.7,376.64 271.45,377.32 289.2,378.08 306.95,378.36 324.7,378.48 342.46,378.2 360.21,377.6 377.96,376.7 395.71,376 413.46,374.5 431.21,373.6" fill="none" stroke="rgba(40,40,40,0.6)" stroke-width="1.3"/>
<polyline points="93.94,339.28 111.69,336.73 129.44,359.28 147.19,368.4 164.94,366.72 182.7,370.18 200.45,371.96 218.2,374.8 235.95,376.28 253.7,377.14 271.45,377.87 289.2,378.73 306.95,379.06 324.7,379.25 342.46,378.92 360.21,378.26 377.96,377.24 395.71,376.6 413.46,375.1 431.21,374.26" fill="none" stroke="rgba(40,40,40,0.6)" stroke-width="1.3"/>
<polyline points="93.94,340.4 111.69,339.64 129.44,360.4 147.19,368.4 164.94,367 182.7,370.52 200.45,372.8 218.2,375.5 235.95,377.4 253.7,378.32 271.45,379.16 289.2,380.24 306.95,380.68 324.7,381.04 342.46,380.6 360.21,379.8 377.96,378.5 395.71,378 413.46,376.5 431.21,375.8" fill="none" stroke="rgba(40,40,40,0.6)" stroke-width="1.3"/>
<polyline points="93.94,342 111.69,343.8 129.44,362 147.19,368.4 164.94,367.4 182.7,371 200.45,374 218.2,376.5 235.95,379 253.7,380 271.45,381 289.2,382.4 306.95,383 324.7,383.6 342.46,383 360.21,382 377.96,380.3 395.71,380 413.46,378.5 431.21,378" fill="none" stroke="rgba(40,40,40,0.6)" stroke-width="1.3"/>
<circle cx="93.94" cy="338" r="2.9" fill="#343434"/>
<circle cx="111.69" cy="333.4" r="2.9" fill="#343434"/>
<circle cx="129.44" cy="358" r="2.9" fill="#343434"/>
<circle cx="164.94" cy="366.4" r="2.9" fill="#343434"/>
<circle cx="182.7" cy="369.8" r="2.9" fill="#343434"/>
<circle cx="200.45" cy="371" r="2.9" fill="#343434"/>
<circle cx="218.2" cy="374" r="2.9" fill="#343434"/>
<circle cx="235.95" cy="375" r="2.9" fill="#343434"/>
<circle cx="253.7" cy="375.8" r="2.9" fill="#343434"/>
<circle cx="271.45" cy="376.4" r="2.9" fill="#343434"/>
<circle cx="289.2" cy="377" r="2.9" fill="#343434"/>
<circle cx="306.95" cy="377.2" r="2.9" fill="#343434"/>
<circle cx="324.7" cy="377.2" r="2.9" fill="#343434"/>
<circle cx="342.46" cy="377" r="2.9" fill="#343434"/>
<circle cx="360.21" cy="376.5" r="2.9" fill="#343434"/>
<circle cx="377.96" cy="375.8" r="2.9" fill="#343434"/>
<circle cx="395.71" cy="375" r="2.9" fill="#343434"/>
<circle cx="413.46" cy="373.5" r="2.9" fill="#343434"/>
<circle cx="431.21" cy="372.5" r="2.9" fill="#343434"/>
<circle cx="93.94" cy="339.32" r="2.9" fill="#343434"/>
<circle cx="111.69" cy="336.83" r="2.9" fill="#343434"/>
<circle cx="129.44" cy="359.32" r="2.9" fill="#343434"/>
<circle cx="164.94" cy="366.73" r="2.9" fill="#343434"/>
<circle cx="182.7" cy="370.2" r="2.9" fill="#343434"/>
<circle cx="200.45" cy="371.99" r="2.9" fill="#343434"/>
<circle cx="218.2" cy="374.82" r="2.9" fill="#343434"/>
<circle cx="235.95" cy="376.32" r="2.9" fill="#343434"/>
<circle cx="253.7" cy="377.19" r="2.9" fill="#343434"/>
<circle cx="271.45" cy="377.92" r="2.9" fill="#343434"/>
<circle cx="289.2" cy="378.78" r="2.9" fill="#343434"/>
<circle cx="306.95" cy="379.11" r="2.9" fill="#343434"/>
<circle cx="324.7" cy="379.31" r="2.9" fill="#343434"/>
<circle cx="342.46" cy="378.98" r="2.9" fill="#343434"/>
<circle cx="360.21" cy="378.31" r="2.9" fill="#343434"/>
<circle cx="377.96" cy="377.29" r="2.9" fill="#343434"/>
<circle cx="395.71" cy="376.65" r="2.9" fill="#343434"/>
<circle cx="413.46" cy="375.15" r="2.9" fill="#343434"/>
<circle cx="431.21" cy="374.31" r="2.9" fill="#343434"/>
<circle cx="93.94" cy="340.68" r="2.9" fill="#343434"/>
<circle cx="111.69" cy="340.37" r="2.9" fill="#343434"/>
<circle cx="129.44" cy="360.68" r="2.9" fill="#343434"/>
<circle cx="164.94" cy="367.07" r="2.9" fill="#343434"/>
<circle cx="182.7" cy="370.6" r="2.9" fill="#343434"/>
<circle cx="200.45" cy="373.01" r="2.9" fill="#343434"/>
<circle cx="218.2" cy="375.68" r="2.9" fill="#343434"/>
<circle cx="235.95" cy="377.68" r="2.9" fill="#343434"/>
<circle cx="253.7" cy="378.61" r="2.9" fill="#343434"/>
<circle cx="271.45" cy="379.48" r="2.9" fill="#343434"/>
<circle cx="289.2" cy="380.62" r="2.9" fill="#343434"/>
<circle cx="306.95" cy="381.09" r="2.9" fill="#343434"/>
<circle cx="324.7" cy="381.49" r="2.9" fill="#343434"/>
<circle cx="342.46" cy="381.02" r="2.9" fill="#343434"/>
<circle cx="360.21" cy="380.19" r="2.9" fill="#343434"/>
<circle cx="377.96" cy="378.81" r="2.9" fill="#343434"/>
<circle cx="395.71" cy="378.35" r="2.9" fill="#343434"/>
<circle cx="413.46" cy="376.85" r="2.9" fill="#343434"/>
<circle cx="431.21" cy="376.19" r="2.9" fill="#343434"/>
<circle cx="93.94" cy="342" r="2.9" fill="#343434"/>
<circle cx="111.69" cy="343.8" r="2.9" fill="#343434"/>
<circle cx="129.44" cy="362" r="2.9" fill="#343434"/>
<circle cx="164.94" cy="367.4" r="2.9" fill="#343434"/>
<circle cx="182.7" cy="371" r="2.9" fill="#343434"/>
<circle cx="200.45" cy="374" r="2.9" fill="#343434"/>
<circle cx="218.2" cy="376.5" r="2.9" fill="#343434"/>
<circle cx="235.95" cy="379" r="2.9" fill="#343434"/>
<circle cx="253.7" cy="380" r="2.9" fill="#343434"/>
<circle cx="271.45" cy="381" r="2.9" fill="#343434"/>
<circle cx="289.2" cy="382.4" r="2.9" fill="#343434"/>
<circle cx="306.95" cy="383" r="2.9" fill="#343434"/>
<circle cx="324.7" cy="383.6" r="2.9" fill="#343434"/>
<circle cx="342.46" cy="383" r="2.9" fill="#343434"/>
<circle cx="360.21" cy="382" r="2.9" fill="#343434"/>
<circle cx="377.96" cy="380.3" r="2.9" fill="#343434"/>
<circle cx="395.71" cy="380" r="2.9" fill="#343434"/>
<circle cx="413.46" cy="378.5" r="2.9" fill="#343434"/>
<circle cx="431.21" cy="378" r="2.9" fill="#343434"/>
<circle cx="147.19" cy="368.4" r="2.4" fill="#8a8a8a" stroke="#2e2e2e" stroke-width="1.2"/>
<rect x="54" y="242" width="399.4" height="204.5" fill="none" stroke="#262626" stroke-width="1.3"/>
<line x1="54" y1="446.5" x2="54" y2="451" stroke="#262626" stroke-width="1.25"/>
<line x1="54" y1="242" x2="54" y2="237.5" stroke="#262626" stroke-width="1.25"/>
<line x1="65.09" y1="446.5" x2="65.09" y2="449.2" stroke="#262626" stroke-width="1.25"/>
<line x1="65.09" y1="242" x2="65.09" y2="239.3" stroke="#262626" stroke-width="1.25"/>
<line x1="76.19" y1="446.5" x2="76.19" y2="449.2" stroke="#262626" stroke-width="1.25"/>
<line x1="76.19" y1="242" x2="76.19" y2="239.3" stroke="#262626" stroke-width="1.25"/>
<line x1="87.28" y1="446.5" x2="87.28" y2="449.2" stroke="#262626" stroke-width="1.25"/>
<line x1="87.28" y1="242" x2="87.28" y2="239.3" stroke="#262626" stroke-width="1.25"/>
<line x1="98.38" y1="446.5" x2="98.38" y2="451" stroke="#262626" stroke-width="1.25"/>
<line x1="98.38" y1="242" x2="98.38" y2="237.5" stroke="#262626" stroke-width="1.25"/>
<line x1="109.47" y1="446.5" x2="109.47" y2="449.2" stroke="#262626" stroke-width="1.25"/>
<line x1="109.47" y1="242" x2="109.47" y2="239.3" stroke="#262626" stroke-width="1.25"/>
<line x1="120.57" y1="446.5" x2="120.57" y2="449.2" stroke="#262626" stroke-width="1.25"/>
<line x1="120.57" y1="242" x2="120.57" y2="239.3" stroke="#262626" stroke-width="1.25"/>
<line x1="131.66" y1="446.5" x2="131.66" y2="449.2" stroke="#262626" stroke-width="1.25"/>
<line x1="131.66" y1="242" x2="131.66" y2="239.3" stroke="#262626" stroke-width="1.25"/>
<line x1="142.76" y1="446.5" x2="142.76" y2="451" stroke="#262626" stroke-width="1.25"/>
<line x1="142.76" y1="242" x2="142.76" y2="237.5" stroke="#262626" stroke-width="1.25"/>
<line x1="153.85" y1="446.5" x2="153.85" y2="449.2" stroke="#262626" stroke-width="1.25"/>
<line x1="153.85" y1="242" x2="153.85" y2="239.3" stroke="#262626" stroke-width="1.25"/>
<line x1="164.94" y1="446.5" x2="164.94" y2="449.2" stroke="#262626" stroke-width="1.25"/>
<line x1="164.94" y1="242" x2="164.94" y2="239.3" stroke="#262626" stroke-width="1.25"/>
<line x1="176.04" y1="446.5" x2="176.04" y2="449.2" stroke="#262626" stroke-width="1.25"/>
<line x1="176.04" y1="242" x2="176.04" y2="239.3" stroke="#262626" stroke-width="1.25"/>
<line x1="187.13" y1="446.5" x2="187.13" y2="451" stroke="#262626" stroke-width="1.25"/>
<line x1="187.13" y1="242" x2="187.13" y2="237.5" stroke="#262626" stroke-width="1.25"/>
<line x1="198.23" y1="446.5" x2="198.23" y2="449.2" stroke="#262626" stroke-width="1.25"/>
<line x1="198.23" y1="242" x2="198.23" y2="239.3" stroke="#262626" stroke-width="1.25"/>
<line x1="209.32" y1="446.5" x2="209.32" y2="449.2" stroke="#262626" stroke-width="1.25"/>
<line x1="209.32" y1="242" x2="209.32" y2="239.3" stroke="#262626" stroke-width="1.25"/>
<line x1="220.42" y1="446.5" x2="220.42" y2="449.2" stroke="#262626" stroke-width="1.25"/>
<line x1="220.42" y1="242" x2="220.42" y2="239.3" stroke="#262626" stroke-width="1.25"/>
<line x1="231.51" y1="446.5" x2="231.51" y2="451" stroke="#262626" stroke-width="1.25"/>
<line x1="231.51" y1="242" x2="231.51" y2="237.5" stroke="#262626" stroke-width="1.25"/>
<line x1="242.61" y1="446.5" x2="242.61" y2="449.2" stroke="#262626" stroke-width="1.25"/>
<line x1="242.61" y1="242" x2="242.61" y2="239.3" stroke="#262626" stroke-width="1.25"/>
<line x1="253.7" y1="446.5" x2="253.7" y2="449.2" stroke="#262626" stroke-width="1.25"/>
<line x1="253.7" y1="242" x2="253.7" y2="239.3" stroke="#262626" stroke-width="1.25"/>
<line x1="264.79" y1="446.5" x2="264.79" y2="449.2" stroke="#262626" stroke-width="1.25"/>
<line x1="264.79" y1="242" x2="264.79" y2="239.3" stroke="#262626" stroke-width="1.25"/>
<line x1="275.89" y1="446.5" x2="275.89" y2="451" stroke="#262626" stroke-width="1.25"/>
<line x1="275.89" y1="242" x2="275.89" y2="237.5" stroke="#262626" stroke-width="1.25"/>
<line x1="286.98" y1="446.5" x2="286.98" y2="449.2" stroke="#262626" stroke-width="1.25"/>
<line x1="286.98" y1="242" x2="286.98" y2="239.3" stroke="#262626" stroke-width="1.25"/>
<line x1="298.08" y1="446.5" x2="298.08" y2="449.2" stroke="#262626" stroke-width="1.25"/>
<line x1="298.08" y1="242" x2="298.08" y2="239.3" stroke="#262626" stroke-width="1.25"/>
<line x1="309.17" y1="446.5" x2="309.17" y2="449.2" stroke="#262626" stroke-width="1.25"/>
<line x1="309.17" y1="242" x2="309.17" y2="239.3" stroke="#262626" stroke-width="1.25"/>
<line x1="320.27" y1="446.5" x2="320.27" y2="451" stroke="#262626" stroke-width="1.25"/>
<line x1="320.27" y1="242" x2="320.27" y2="237.5" stroke="#262626" stroke-width="1.25"/>
<line x1="331.36" y1="446.5" x2="331.36" y2="449.2" stroke="#262626" stroke-width="1.25"/>
<line x1="331.36" y1="242" x2="331.36" y2="239.3" stroke="#262626" stroke-width="1.25"/>
<line x1="342.46" y1="446.5" x2="342.46" y2="449.2" stroke="#262626" stroke-width="1.25"/>
<line x1="342.46" y1="242" x2="342.46" y2="239.3" stroke="#262626" stroke-width="1.25"/>
<line x1="353.55" y1="446.5" x2="353.55" y2="449.2" stroke="#262626" stroke-width="1.25"/>
<line x1="353.55" y1="242" x2="353.55" y2="239.3" stroke="#262626" stroke-width="1.25"/>
<line x1="364.64" y1="446.5" x2="364.64" y2="451" stroke="#262626" stroke-width="1.25"/>
<line x1="364.64" y1="242" x2="364.64" y2="237.5" stroke="#262626" stroke-width="1.25"/>
<line x1="375.74" y1="446.5" x2="375.74" y2="449.2" stroke="#262626" stroke-width="1.25"/>
<line x1="375.74" y1="242" x2="375.74" y2="239.3" stroke="#262626" stroke-width="1.25"/>
<line x1="386.83" y1="446.5" x2="386.83" y2="449.2" stroke="#262626" stroke-width="1.25"/>
<line x1="386.83" y1="242" x2="386.83" y2="239.3" stroke="#262626" stroke-width="1.25"/>
<line x1="397.93" y1="446.5" x2="397.93" y2="449.2" stroke="#262626" stroke-width="1.25"/>
<line x1="397.93" y1="242" x2="397.93" y2="239.3" stroke="#262626" stroke-width="1.25"/>
<line x1="409.02" y1="446.5" x2="409.02" y2="451" stroke="#262626" stroke-width="1.25"/>
<line x1="409.02" y1="242" x2="409.02" y2="237.5" stroke="#262626" stroke-width="1.25"/>
<line x1="420.12" y1="446.5" x2="420.12" y2="449.2" stroke="#262626" stroke-width="1.25"/>
<line x1="420.12" y1="242" x2="420.12" y2="239.3" stroke="#262626" stroke-width="1.25"/>
<line x1="431.21" y1="446.5" x2="431.21" y2="449.2" stroke="#262626" stroke-width="1.25"/>
<line x1="431.21" y1="242" x2="431.21" y2="239.3" stroke="#262626" stroke-width="1.25"/>
<line x1="442.31" y1="446.5" x2="442.31" y2="449.2" stroke="#262626" stroke-width="1.25"/>
<line x1="442.31" y1="242" x2="442.31" y2="239.3" stroke="#262626" stroke-width="1.25"/>
<line x1="453.4" y1="446.5" x2="453.4" y2="451" stroke="#262626" stroke-width="1.25"/>
<line x1="453.4" y1="242" x2="453.4" y2="237.5" stroke="#262626" stroke-width="1.25"/>
<line x1="54" y1="446.65" x2="51" y2="446.65" stroke="#262626" stroke-width="1.25"/>
<line x1="453.4" y1="446.65" x2="456.4" y2="446.65" stroke="#262626" stroke-width="1.25"/>
<line x1="54" y1="438.72" x2="51" y2="438.72" stroke="#262626" stroke-width="1.25"/>
<line x1="453.4" y1="438.72" x2="456.4" y2="438.72" stroke="#262626" stroke-width="1.25"/>
<line x1="54" y1="432.57" x2="51" y2="432.57" stroke="#262626" stroke-width="1.25"/>
<line x1="453.4" y1="432.57" x2="456.4" y2="432.57" stroke="#262626" stroke-width="1.25"/>
<line x1="54" y1="427.54" x2="51" y2="427.54" stroke="#262626" stroke-width="1.25"/>
<line x1="453.4" y1="427.54" x2="456.4" y2="427.54" stroke="#262626" stroke-width="1.25"/>
<line x1="54" y1="423.29" x2="51" y2="423.29" stroke="#262626" stroke-width="1.25"/>
<line x1="453.4" y1="423.29" x2="456.4" y2="423.29" stroke="#262626" stroke-width="1.25"/>
<line x1="54" y1="419.6" x2="51" y2="419.6" stroke="#262626" stroke-width="1.25"/>
<line x1="453.4" y1="419.6" x2="456.4" y2="419.6" stroke="#262626" stroke-width="1.25"/>
<line x1="54" y1="416.36" x2="51" y2="416.36" stroke="#262626" stroke-width="1.25"/>
<line x1="453.4" y1="416.36" x2="456.4" y2="416.36" stroke="#262626" stroke-width="1.25"/>
<line x1="54" y1="413.45" x2="49" y2="413.45" stroke="#262626" stroke-width="1.25"/>
<line x1="453.4" y1="413.45" x2="458.4" y2="413.45" stroke="#262626" stroke-width="1.25"/>
<line x1="54" y1="394.33" x2="51" y2="394.33" stroke="#262626" stroke-width="1.25"/>
<line x1="453.4" y1="394.33" x2="456.4" y2="394.33" stroke="#262626" stroke-width="1.25"/>
<line x1="54" y1="383.15" x2="51" y2="383.15" stroke="#262626" stroke-width="1.25"/>
<line x1="453.4" y1="383.15" x2="456.4" y2="383.15" stroke="#262626" stroke-width="1.25"/>
<line x1="54" y1="375.22" x2="51" y2="375.22" stroke="#262626" stroke-width="1.25"/>
<line x1="453.4" y1="375.22" x2="456.4" y2="375.22" stroke="#262626" stroke-width="1.25"/>
<line x1="54" y1="369.07" x2="51" y2="369.07" stroke="#262626" stroke-width="1.25"/>
<line x1="453.4" y1="369.07" x2="456.4" y2="369.07" stroke="#262626" stroke-width="1.25"/>
<line x1="54" y1="364.04" x2="51" y2="364.04" stroke="#262626" stroke-width="1.25"/>
<line x1="453.4" y1="364.04" x2="456.4" y2="364.04" stroke="#262626" stroke-width="1.25"/>
<line x1="54" y1="359.79" x2="51" y2="359.79" stroke="#262626" stroke-width="1.25"/>
<line x1="453.4" y1="359.79" x2="456.4" y2="359.79" stroke="#262626" stroke-width="1.25"/>
<line x1="54" y1="356.1" x2="51" y2="356.1" stroke="#262626" stroke-width="1.25"/>
<line x1="453.4" y1="356.1" x2="456.4" y2="356.1" stroke="#262626" stroke-width="1.25"/>
<line x1="54" y1="352.86" x2="51" y2="352.86" stroke="#262626" stroke-width="1.25"/>
<line x1="453.4" y1="352.86" x2="456.4" y2="352.86" stroke="#262626" stroke-width="1.25"/>
<line x1="54" y1="349.95" x2="49" y2="349.95" stroke="#262626" stroke-width="1.25"/>
<line x1="453.4" y1="349.95" x2="458.4" y2="349.95" stroke="#262626" stroke-width="1.25"/>
<line x1="54" y1="330.83" x2="51" y2="330.83" stroke="#262626" stroke-width="1.25"/>
<line x1="453.4" y1="330.83" x2="456.4" y2="330.83" stroke="#262626" stroke-width="1.25"/>
<line x1="54" y1="319.65" x2="51" y2="319.65" stroke="#262626" stroke-width="1.25"/>
<line x1="453.4" y1="319.65" x2="456.4" y2="319.65" stroke="#262626" stroke-width="1.25"/>
<line x1="54" y1="311.72" x2="51" y2="311.72" stroke="#262626" stroke-width="1.25"/>
<line x1="453.4" y1="311.72" x2="456.4" y2="311.72" stroke="#262626" stroke-width="1.25"/>
<line x1="54" y1="305.57" x2="51" y2="305.57" stroke="#262626" stroke-width="1.25"/>
<line x1="453.4" y1="305.57" x2="456.4" y2="305.57" stroke="#262626" stroke-width="1.25"/>
<line x1="54" y1="300.54" x2="51" y2="300.54" stroke="#262626" stroke-width="1.25"/>
<line x1="453.4" y1="300.54" x2="456.4" y2="300.54" stroke="#262626" stroke-width="1.25"/>
<line x1="54" y1="296.29" x2="51" y2="296.29" stroke="#262626" stroke-width="1.25"/>
<line x1="453.4" y1="296.29" x2="456.4" y2="296.29" stroke="#262626" stroke-width="1.25"/>
<line x1="54" y1="292.6" x2="51" y2="292.6" stroke="#262626" stroke-width="1.25"/>
<line x1="453.4" y1="292.6" x2="456.4" y2="292.6" stroke="#262626" stroke-width="1.25"/>
<line x1="54" y1="289.36" x2="51" y2="289.36" stroke="#262626" stroke-width="1.25"/>
<line x1="453.4" y1="289.36" x2="456.4" y2="289.36" stroke="#262626" stroke-width="1.25"/>
<line x1="54" y1="286.45" x2="49" y2="286.45" stroke="#262626" stroke-width="1.25"/>
<line x1="453.4" y1="286.45" x2="458.4" y2="286.45" stroke="#262626" stroke-width="1.25"/>
<line x1="54" y1="267.33" x2="51" y2="267.33" stroke="#262626" stroke-width="1.25"/>
<line x1="453.4" y1="267.33" x2="456.4" y2="267.33" stroke="#262626" stroke-width="1.25"/>
<line x1="54" y1="256.15" x2="51" y2="256.15" stroke="#262626" stroke-width="1.25"/>
<line x1="453.4" y1="256.15" x2="456.4" y2="256.15" stroke="#262626" stroke-width="1.25"/>
<line x1="54" y1="248.22" x2="51" y2="248.22" stroke="#262626" stroke-width="1.25"/>
<line x1="453.4" y1="248.22" x2="456.4" y2="248.22" stroke="#262626" stroke-width="1.25"/>
<line x1="54" y1="242.07" x2="51" y2="242.07" stroke="#262626" stroke-width="1.25"/>
<line x1="453.4" y1="242.07" x2="456.4" y2="242.07" stroke="#262626" stroke-width="1.25"/>
<text x="50.93" y="465.6" textLength="6.55" lengthAdjust="spacingAndGlyphs" style="font-family:'Liberation Serif', serif;font-size:13.5px;font-style:normal" fill="#3d3d3d">0</text>
<text x="91.99" y="465.6" textLength="13.09" lengthAdjust="spacingAndGlyphs" style="font-family:'Liberation Serif', serif;font-size:13.5px;font-style:normal" fill="#3d3d3d">20</text>
<text x="136.53" y="465.6" textLength="13.09" lengthAdjust="spacingAndGlyphs" style="font-family:'Liberation Serif', serif;font-size:13.5px;font-style:normal" fill="#3d3d3d">40</text>
<text x="180.75" y="465.6" textLength="13.1" lengthAdjust="spacingAndGlyphs" style="font-family:'Liberation Serif', serif;font-size:13.5px;font-style:normal" fill="#3d3d3d">60</text>
<text x="225.16" y="465.6" textLength="13.09" lengthAdjust="spacingAndGlyphs" style="font-family:'Liberation Serif', serif;font-size:13.5px;font-style:normal" fill="#3d3d3d">80</text>
<text x="265.94" y="465.6" textLength="19.64" lengthAdjust="spacingAndGlyphs" style="font-family:'Liberation Serif', serif;font-size:13.5px;font-style:normal" fill="#3d3d3d">100</text>
<text x="310.32" y="465.6" textLength="19.64" lengthAdjust="spacingAndGlyphs" style="font-family:'Liberation Serif', serif;font-size:13.5px;font-style:normal" fill="#3d3d3d">120</text>
<text x="354.7" y="465.6" textLength="19.64" lengthAdjust="spacingAndGlyphs" style="font-family:'Liberation Serif', serif;font-size:13.5px;font-style:normal" fill="#3d3d3d">140</text>
<text x="399.07" y="465.6" textLength="19.64" lengthAdjust="spacingAndGlyphs" style="font-family:'Liberation Serif', serif;font-size:13.5px;font-style:normal" fill="#3d3d3d">160</text>
<text x="443.45" y="465.6" textLength="19.64" lengthAdjust="spacingAndGlyphs" style="font-family:'Liberation Serif', serif;font-size:13.5px;font-style:normal" fill="#3d3d3d">180</text>
<text x="21.47" y="416.65" textLength="13.39" lengthAdjust="spacingAndGlyphs" style="font-family:'Liberation Serif', serif;font-size:13.5px;font-style:normal" fill="#3d3d3d">10</text>
<text x="34.35" y="412.15" textLength="7.39" lengthAdjust="spacingAndGlyphs" style="font-family:'Liberation Serif', serif;font-size:9px;font-style:normal" fill="#3d3d3d">−</text>
<text x="41.38" y="411.85" textLength="3.55" lengthAdjust="spacingAndGlyphs" style="font-family:'Liberation Serif', serif;font-size:9px;font-style:normal" fill="#3d3d3d">1</text>
<text x="28.07" y="353.05" textLength="12.81" lengthAdjust="spacingAndGlyphs" style="font-family:'Liberation Serif', serif;font-size:13.5px;font-style:normal" fill="#3d3d3d">10</text>
<text x="41.28" y="348.75" textLength="4.25" lengthAdjust="spacingAndGlyphs" style="font-family:'Liberation Serif', serif;font-size:9px;font-style:normal" fill="#3d3d3d">0</text>
<text x="28.07" y="289.55" textLength="12.81" lengthAdjust="spacingAndGlyphs" style="font-family:'Liberation Serif', serif;font-size:13.5px;font-style:normal" fill="#3d3d3d">10</text>
<text x="41.4" y="285.25" textLength="3.41" lengthAdjust="spacingAndGlyphs" style="font-family:'Liberation Serif', serif;font-size:9px;font-style:normal" fill="#3d3d3d">1</text>
<text x="61.47" y="255.3" textLength="6.15" lengthAdjust="spacingAndGlyphs" style="font-family:'Liberation Serif', serif;font-size:14px;font-style:normal" fill="#3d3d3d">c</text>
<text x="67.55" y="256" textLength="4.67" lengthAdjust="spacingAndGlyphs" style="font-family:'Liberation Serif', serif;font-size:14px;font-style:normal" fill="#3d3d3d">)</text>
<text transform="translate(15.1,388.5) rotate(-90)" x="-0.44" y="0" textLength="90.17" lengthAdjust="spacingAndGlyphs" style="font-family:'Liberation Serif', serif;font-size:15px;font-style:normal" fill="#3d3d3d">Phase function</text>
<circle cx="199.8" cy="257.2" r="3.4" fill="none" stroke="#1f6fb8" stroke-width="1.6"/>
<text x="205.62" y="260.8" textLength="63.99" lengthAdjust="spacingAndGlyphs" style="font-family:'Liberation Serif', serif;font-size:13.6px;font-style:normal" fill="#3d3d3d">ML Median</text>
<circle cx="279.4" cy="257.5" r="3" fill="none" stroke="#d9531e" stroke-width="1.5"/>
<text x="286.27" y="260.8" textLength="77.53" lengthAdjust="spacingAndGlyphs" style="font-family:'Liberation Serif', serif;font-size:13.6px;font-style:normal" fill="#3d3d3d">Arctic Median</text>
<circle cx="373.2" cy="257" r="2.2" fill="none" stroke="#333" stroke-width="1.1"/><line x1="371.2" y1="257" x2="375.2" y2="257" stroke="#333" stroke-width="0.9"/>
<text x="380.61" y="260.8" textLength="63.05" lengthAdjust="spacingAndGlyphs" style="font-family:'Liberation Serif', serif;font-size:13.6px;font-style:normal" fill="#3d3d3d">Ray tracing</text>
<rect x="195.9" y="267.5" width="8.1" height="10.9" fill="#89bde6"/>
<rect x="195.9" y="282.9" width="8.1" height="11.2" fill="#c5dcf0"/>
<rect x="275.9" y="267.5" width="8.1" height="10.9" fill="#e8b09b"/>
<rect x="275.9" y="282.9" width="8.1" height="11.2" fill="#f0d6cc"/>
<text x="205.85" y="277.8" textLength="44.61" lengthAdjust="spacingAndGlyphs" style="font-family:'Liberation Sans', sans-serif;font-size:13px;font-style:normal" fill="#262626">25-75%</text>
<text x="206.01" y="292.5" textLength="37.45" lengthAdjust="spacingAndGlyphs" style="font-family:'Liberation Sans', sans-serif;font-size:13px;font-style:normal" fill="#262626">1-99%</text>
<text x="285.85" y="277.8" textLength="44.61" lengthAdjust="spacingAndGlyphs" style="font-family:'Liberation Sans', sans-serif;font-size:13px;font-style:normal" fill="#262626">25-75%</text>
<text x="286.01" y="292.5" textLength="37.45" lengthAdjust="spacingAndGlyphs" style="font-family:'Liberation Sans', sans-serif;font-size:13px;font-style:normal" fill="#262626">1-99%</text>
</svg></body></html>
